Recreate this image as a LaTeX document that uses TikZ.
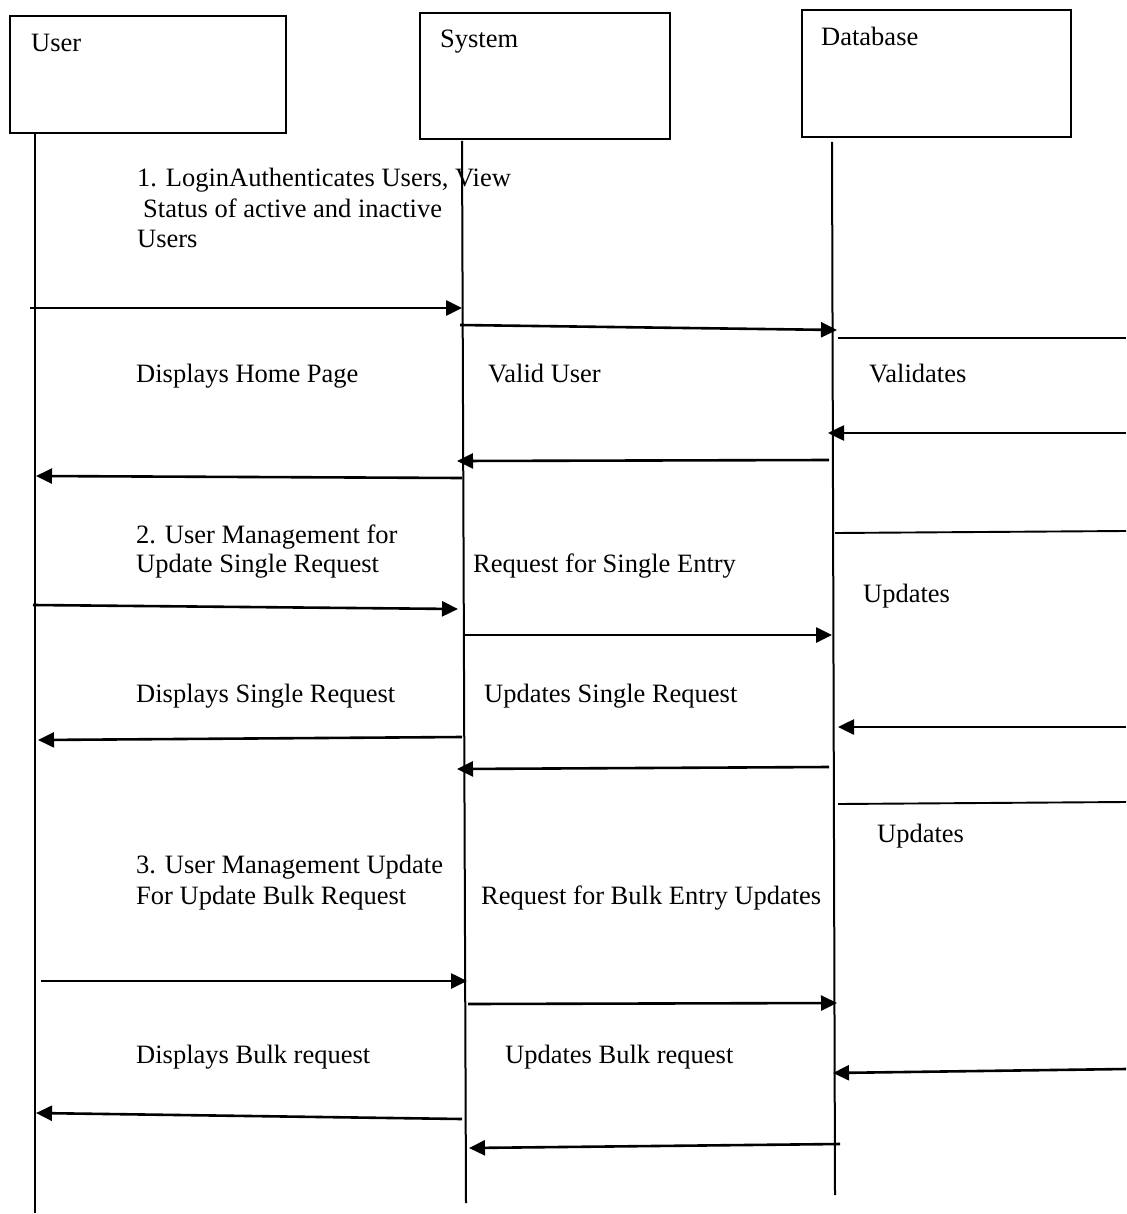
\documentclass[tikz,border=0pt]{standalone}
\usepackage{fontspec}
\setmainfont{Liberation Serif}
\usetikzlibrary{arrows.meta}

\tikzset{
  actor/.style={draw=black, line width=2.4pt, rectangle, anchor=north west, inner sep=0pt},
  lifeline/.style={draw=black, line width=2pt},
  msg/.style={draw=black, line width=2.6pt, -{Triangle[length=16pt,width=15pt]}},
  rule/.style={draw=black, line width=1.9pt},
  lbl/.style={anchor=base west, inner sep=0pt, text=black, font=\fontsize{26.5}{31}\selectfont},
}

\begin{document}
\begin{tikzpicture}[x=1pt, y=-1pt]
\useasboundingbox[fill=white] (0,0) rectangle (1126,1214);

% participants
\node[actor, minimum width=276pt, minimum height=117pt] (user) at (9,15) {};
\node[actor, minimum width=250pt, minimum height=126pt] (system) at (419,12) {};
\node[actor, minimum width=269pt, minimum height=127pt] (db) at (801,9) {};
\node[lbl] (userL) at (31,52) {User};
\node[lbl] (systemL) at (440,48) {System};
\node[lbl] (dbL) at (821,46) {Database};

% lifelines
\coordinate (uTop) at (35,132);   \coordinate (uBot) at (35,1213);
\coordinate (sTop) at (462,141);  \coordinate (sBot) at (466,1203);
\coordinate (dTop) at (832,142);  \coordinate (dBot) at (835,1195);
\draw[lifeline] (uTop) -- (uBot);
\draw[lifeline] (sTop) -- (sBot);
\draw[lifeline] (dTop) -- (dBot);

% message end points
\coordinate (m1a) at (30,308);    \coordinate (m1b) at (462,308);
\coordinate (m2a) at (460,325);   \coordinate (m2b) at (837,330);
\coordinate (r1a) at (838,338);   \coordinate (r1b) at (1126,338);
\coordinate (m3a) at (1126,433);  \coordinate (m3b) at (828,433);
\coordinate (m4a) at (829,460);   \coordinate (m4b) at (457,461);
\coordinate (m5a) at (462,478);   \coordinate (m5b) at (36,476);
\coordinate (r2a) at (835,533);   \coordinate (r2b) at (1126,531);
\coordinate (m6a) at (33,605);    \coordinate (m6b) at (458,609);
\coordinate (m7a) at (465,635);   \coordinate (m7b) at (832,635);
\coordinate (m8a) at (1126,727);  \coordinate (m8b) at (838,727);
\coordinate (m9a) at (462,737);   \coordinate (m9b) at (38,740);
\coordinate (m10a) at (829,767);  \coordinate (m10b) at (457,769);
\coordinate (r3a) at (838,804);   \coordinate (r3b) at (1126,802);
\coordinate (m11a) at (41,981);   \coordinate (m11b) at (467,981);
\coordinate (m12a) at (468,1004); \coordinate (m12b) at (837,1003);
\coordinate (m13a) at (1126,1069);\coordinate (m13b) at (833,1073);
\coordinate (m14a) at (462,1119); \coordinate (m14b) at (36,1113);
\coordinate (m15a) at (840,1144); \coordinate (m15b) at (469,1148);

% messages
\draw[msg] (m1a) -- (m1b);
\draw[msg] (m2a) -- (m2b);
\draw[rule] (r1a) -- (r1b);
\draw[msg] (m3a) -- (m3b);
\draw[msg] (m4a) -- (m4b);
\draw[msg] (m5a) -- (m5b);
\draw[rule] (r2a) -- (r2b);
\draw[msg] (m6a) -- (m6b);
\draw[msg] (m7a) -- (m7b);
\draw[msg] (m8a) -- (m8b);
\draw[msg] (m9a) -- (m9b);
\draw[msg] (m10a) -- (m10b);
\draw[rule] (r3a) -- (r3b);
\draw[msg] (m11a) -- (m11b);
\draw[msg] (m12a) -- (m12b);
\draw[msg] (m13a) -- (m13b);
\draw[msg] (m14a) -- (m14b);
\draw[msg] (m15a) -- (m15b);

% message labels
\node[lbl] (t1a) at (137,187) {1. LoginAuthenticates Users, View};
\node[lbl] (t1b) at (143,218) {Status of active and inactive};
\node[lbl] (t1c) at (137,248) {Users};
\node[lbl] (t2) at (136,382) {Displays Home Page};
\node[lbl] (t3) at (488,382) {Valid User};
\node[lbl] (t4) at (869,382) {Validates};
\node[lbl] (t5a) at (136,543) {2. User Management for};
\node[lbl] (t5b) at (136,572) {Update Single Request};
\node[lbl] (t6) at (473,572) {Request for Single Entry};
\node[lbl] (t7) at (863,602) {Updates};
\node[lbl] (t8) at (136,702) {Displays Single Request};
\node[lbl] (t9) at (484,702) {Updates Single Request};
\node[lbl] (t10) at (877,842) {Updates};
\node[lbl] (t11a) at (136,873) {3. User Management Update};
\node[lbl] (t11b) at (136,904) {For Update Bulk Request};
\node[lbl] (t12) at (481,904) {Request for Bulk Entry Updates};
\node[lbl] (t13) at (136,1063) {Displays Bulk request};
\node[lbl] (t14) at (505,1063) {Updates Bulk request};
\end{tikzpicture}
\end{document}
